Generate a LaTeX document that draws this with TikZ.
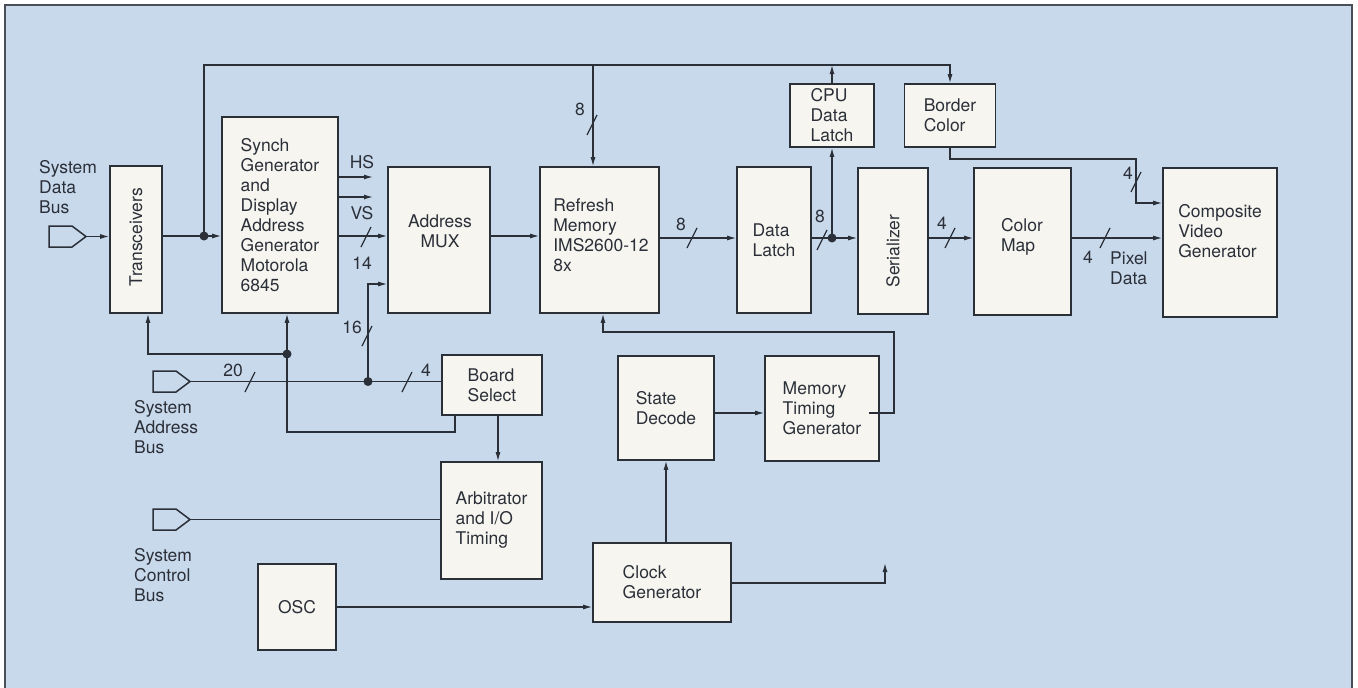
\documentclass[tikz,border=0pt]{standalone}
\usepackage{fontspec}
\setmainfont{TeX Gyre Heros}
\usetikzlibrary{arrows.meta,calc}
\definecolor{bgblue}{HTML}{C8D9EC}
\definecolor{boxfill}{HTML}{F6F5F0}
\definecolor{ink}{HTML}{2B2F38}
\definecolor{framec}{HTML}{4A4E58}
\tikzset{
  wire/.style={draw=ink, line width=1.3pt},
  arr/.style={wire, -{Latex[length=9pt,width=5pt]}},
  blk/.style={draw=ink, fill=boxfill, line width=1.6pt, inner sep=0pt, text=ink, align=left, font=\fontsize{17.5}{20}\selectfont},
  lbl/.style={text=ink, inner sep=0pt, align=left, font=\fontsize{17.5}{20}\selectfont},
  jdot/.style={circle, fill=ink, inner sep=0pt, minimum size=9pt},
  busshape/.style={draw=ink, line width=1.5pt, line join=miter},
  slashmark/.style={draw=ink, line width=1.3pt}
}
\newcommand\slashat[2]{\draw[slashmark] (#1-5,#2+10) -- (#1+5,#2-10);}
\begin{document}
\begin{tikzpicture}[x=1pt,y=-1pt]
\useasboundingbox (0,0) rectangle (1358,688);
\fill[white] (0,0) rectangle (1358,688);
\fill[bgblue] (5,5) rectangle (1352,688);
\draw[framec, line width=2.5pt] (5,688) -- (5,5) -- (1352,5) -- (1352,688);

% bus connectors
\draw[busshape] (49,226) -- (72,226) -- (86,236.5) -- (72,247) -- (49,247) -- cycle;
\coordinate (dbus) at (86,236.5);
\draw[busshape] (153,371) -- (176,371) -- (190,381.5) -- (176,392) -- (153,392) -- cycle;
\coordinate (abus) at (190,381.5);
\draw[busshape] (153,509) -- (176,509) -- (190,519.5) -- (176,530) -- (153,530) -- cycle;
\coordinate (cbus) at (190,519.5);

\node[lbl, anchor=west] (dbusT) at (39,187) {System\\Data\\Bus};
\node[lbl, anchor=west] (abusT) at (134,427) {System\\Address\\Bus};
\node[lbl, anchor=west] (cbusT) at (134,575) {System\\Control\\Bus};

% blocks
\node[blk, minimum width=52pt, minimum height=147pt] (trans) at (136,239.5) {};
\node[lbl, rotate=90] (transT) at (136,237) {Transceivers};
\node[blk, minimum width=116pt, minimum height=196pt] (synch) at (280,215) {Synch\\Generator\\and\\Display\\Address\\Generator\\Motorola\\6845};
\node[blk, minimum width=102pt, minimum height=146pt] (mux) at (439,240) {};
\node[lbl, align=center] (muxT) at (440,231) {Address\\MUX};
\node[blk, minimum width=119pt, minimum height=146pt] (refresh) at (599.5,240) {};
\node[lbl] (refreshT) at (601,235) {Refresh\\Memory\\IMS2600-12\\8x};
\node[blk, minimum width=74pt, minimum height=146pt] (dlatch) at (774,240) {Data\\Latch};
\node[blk, minimum width=84pt, minimum height=63pt] (cpu) at (832,115.5) {CPU\\Data\\Latch};
\node[blk, minimum width=91pt, minimum height=63pt] (border) at (950,115.5) {Border\\Color};
\node[blk, minimum width=70pt, minimum height=146pt] (serial) at (893,241) {};
\node[lbl, rotate=90] (serialT) at (893,251) {Serializer};
\node[blk, minimum width=97pt, minimum height=147pt] (cmap) at (1022.5,241.5) {};
\node[lbl] (cmapT) at (1022,237) {Color\\Map};
\node[blk, minimum width=114pt, minimum height=149pt] (comp) at (1220,242.5) {};
\node[lbl] (compT) at (1220,231) {Composite\\Video\\Generator};
\node[blk, minimum width=100pt, minimum height=60pt] (board) at (492,385) {Board\\Select};
\node[blk, minimum width=101pt, minimum height=117pt] (arb) at (491.5,520.5) {Arbitrator\\and I/O\\Timing};
\node[blk, minimum width=78pt, minimum height=86pt] (osc) at (297,607) {OSC};
\node[blk, minimum width=138pt, minimum height=79pt] (clock) at (662,582.5) {Clock\\Generator};
\node[blk, minimum width=96pt, minimum height=104pt] (state) at (666,408) {State\\Decode};
\node[blk, minimum width=114pt, minimum height=105pt] (mtg) at (822,408.5) {Memory\\Timing\\Generator};

% data bus and top bus
\coordinate (j1) at (204,236);
\coordinate (topR) at (950,65);
\draw[arr] (dbus) -- (dbus -| trans.west);
\draw[wire] (trans.east |- j1) -- (j1);
\draw[arr] (j1) -- (synch.west |- j1);
\draw[arr] (j1) |- (topR) -- (border.north);
\draw[arr] (593,65) -- (refresh.north -| 593,0);
\draw[arr] (cpu.north) -- (cpu.north |- topR);
\node[jdot] (d1) at (j1) {};
\slashat{592}{125}
\node[lbl] (l8a) at (580,109) {8};

% synch outputs
\coordinate (hsend) at (373,177);
\coordinate (vsend) at (373,197);
\draw[arr] (synch.east |- hsend) -- (hsend);
\draw[arr] (synch.east |- vsend) -- (vsend);
\node[lbl] (hsT) at (362,162) {HS};
\node[lbl] (vsT) at (362,213) {VS};
\draw[arr] (synch.east |- 0,236) -- (mux.west |- 0,236);
\slashat{366}{237}
\node[lbl] (l14) at (362,263) {14};

% main data path
\coordinate (j2) at (832,238);
\draw[arr] (mux.east |- 0,236) -- (refresh.west |- 0,236);
\draw[arr] (refresh.east |- j2) -- (dlatch.west |- j2);
\slashat{692}{238}
\node[lbl] (l8b) at (681,224) {8};
\draw[wire] (dlatch.east |- j2) -- (j2);
\draw[arr] (j2) -- (serial.west |- j2);
\draw[arr] (j2) -- (cpu.south);
\node[jdot] (d2) at (j2) {};
\slashat{822}{240}
\node[lbl] (l8c) at (820,216) {8};
\draw[arr] (serial.east |- j2) -- (cmap.west |- j2);
\slashat{950}{238}
\node[lbl] (l4a) at (942,223) {4};
\draw[arr] (cmap.east |- j2) -- (comp.west |- j2);
\slashat{1105}{238}
\node[lbl] (l4b) at (1088,257) {4};
\node[lbl, anchor=west] (pixT) at (1110,268) {Pixel\\Data};
\draw[arr] (border.south) |- (1136,159) |- (comp.west |- 0,203);
\slashat{1136}{182}
\node[lbl] (l4c) at (1128,173) {4};

% address bus
\coordinate (j3) at (368,381.5);
\draw[wire] (abus) -- (board.west |- abus);
\slashat{250}{382}
\node[lbl] (l20) at (233,370) {20};
\slashat{407}{382}
\node[lbl] (l4d) at (426,370) {4};
\draw[arr] (j3) |- (mux.west |- 0,284);
\node[jdot] (d3) at (j3) {};
\slashat{367}{336}
\node[lbl] (l16) at (352,327) {16};

% board select feedback
\coordinate (j4) at (287,354);
\draw[wire] (board.south -| 455,0) |- (j4 |- 0,432) -- (j4);
\draw[arr] (j4) -- (synch.south -| j4);
\draw[arr] (j4) -| (trans.south -| 148,0);
\node[jdot] (d4) at (j4) {};
\draw[arr] (board.south -| 498,0) -- (arb.north -| 498,0);

% control bus
\draw[wire] (cbus) -- (arb.west |- cbus);

% clock section
\draw[arr] (osc.east) -- (clock.west |- osc.east);
\draw[arr] (clock.north -| state.south) -- (state.south);
\draw[arr] (state.east |- 0,413) -- (mtg.west |- 0,413);
\coordinate (mtgout) at (869,413);
\draw[arr] (mtgout) -| (894,332) -| (refresh.south -| 603,0);
\coordinate (clkout) at (885,563);
\draw[arr] (clock.east |- 0,583) -| (clkout);
\end{tikzpicture}
\end{document}
